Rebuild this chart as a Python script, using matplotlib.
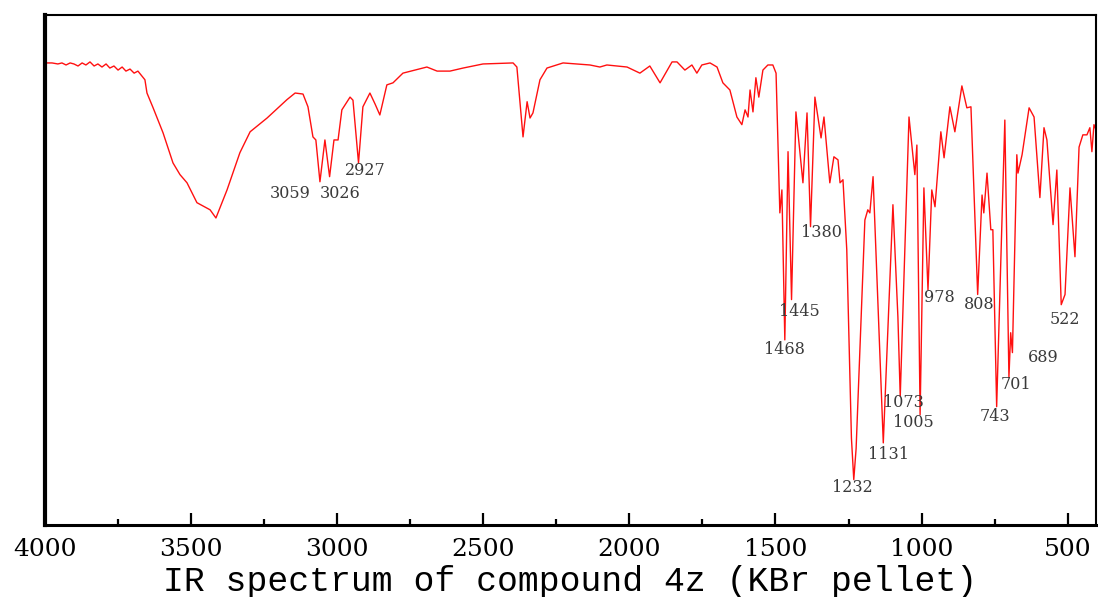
import matplotlib
matplotlib.use("Agg")
import matplotlib.pyplot as plt
from matplotlib.ticker import MultipleLocator

# IR spectrum of compound 4z (KBr pellet): wavenumber (cm-1) vs transmittance (%)
wavenumber = [
    4000, 3976, 3956, 3942, 3928, 3914, 3901, 3887, 3873, 3860,
    3846, 3832, 3819, 3805, 3791, 3778, 3764, 3750, 3736, 3723,
    3709, 3695, 3682, 3668, 3658, 3651, 3641, 3630, 3596, 3562,
    3538, 3514, 3480, 3435, 3415, 3377, 3333, 3298, 3240, 3172,
    3144, 3117, 3100, 3083, 3073, 3059, 3042, 3026, 3011, 2997,
    2984, 2956, 2946, 2927, 2912, 2888, 2870, 2854, 2830, 2809,
    2775, 2693, 2658, 2614, 2569, 2501, 2398, 2385, 2364, 2350,
    2340, 2330, 2306, 2282, 2227, 2135, 2101, 2077, 2008, 1964,
    1930, 1895, 1854, 1837, 1810, 1786, 1769, 1752, 1724, 1700,
    1680, 1656, 1632, 1615, 1604, 1594, 1587, 1577, 1567, 1557,
    1543, 1526, 1509, 1498, 1485, 1478, 1468, 1457, 1445, 1430,
    1406, 1392, 1380, 1365, 1344, 1334, 1314, 1300, 1286, 1279,
    1269, 1256, 1240, 1232, 1224, 1211, 1194, 1184, 1177, 1166,
    1131, 1098, 1081, 1073, 1043, 1023, 1016, 1005, 992, 978,
    965, 954, 934, 923, 903, 886, 862, 845, 831, 808,
    793, 787, 776, 763, 756, 743, 715, 701, 695, 689,
    674, 670, 656, 632, 615, 595, 581, 571, 550, 537,
    522, 509, 492, 475, 461, 448, 434, 424, 417, 410, 403,
]
transmittance = [
    90.6, 90.6, 90.4, 90.6, 90.2, 90.6, 90.4, 90.0, 90.6, 90.2,
    90.8, 90.0, 90.4, 89.8, 90.4, 89.6, 90.0, 89.2, 89.8, 89.0,
    89.4, 88.6, 89.0, 88.0, 87.3, 84.7, 83.3, 81.8, 76.9, 71.0,
    68.7, 67.1, 63.2, 61.8, 60.2, 65.7, 73.0, 77.1, 79.8, 83.4,
    84.7, 84.5, 82.0, 76.1, 75.5, 67.3, 75.5, 68.3, 75.5, 75.5,
    81.4, 83.9, 83.3, 71.0, 82.0, 84.7, 82.5, 80.4, 86.3, 86.7,
    88.6, 89.8, 89.0, 89.0, 89.6, 90.4, 90.6, 89.8, 76.1, 83.0,
    79.8, 80.8, 87.3, 89.6, 90.6, 90.2, 89.8, 90.2, 89.8, 88.6,
    90.0, 86.7, 90.8, 90.8, 89.2, 90.2, 88.6, 90.2, 90.6, 89.8,
    86.7, 85.3, 80.0, 78.5, 81.4, 80.0, 85.3, 81.0, 87.7, 83.9,
    89.2, 90.2, 90.2, 88.6, 61.2, 65.7, 36.3, 73.2, 44.2, 81.0,
    67.1, 80.8, 58.5, 83.9, 75.9, 80.0, 67.1, 72.2, 71.6, 67.1,
    67.7, 54.0, 17.0, 8.9, 15.0, 34.4, 59.8, 61.8, 61.2, 68.3,
    16.1, 62.8, 40.8, 25.2, 80.0, 68.7, 74.5, 21.6, 66.1, 46.1,
    65.7, 62.4, 77.1, 72.0, 82.0, 77.1, 86.1, 81.8, 82.0, 45.2,
    64.7, 61.2, 69.0, 57.9, 57.9, 23.2, 79.4, 28.9, 37.7, 33.8,
    72.6, 69.0, 72.6, 81.8, 80.0, 64.2, 77.9, 75.5, 58.9, 69.6,
    43.2, 45.2, 66.1, 52.6, 74.1, 76.5, 76.5, 77.9, 73.2, 78.5, 77.5,
]

# Labelled absorption bands and where their labels sit (offset in pixels)
peak_labels = [3059, 3026, 2927, 1468, 1445, 1380, 1232, 1131,
               1073, 1005, 978, 808, 743, 701, 689, 522]
label_offsets = [(-30, -12), (11, -17), (7, -8), (0, -10), (8, -12), (11, -6),
                 (-1, -8), (5, -12), (3, -6), (-7, -8), (11, -8), (2, -10),
                 (-2, -10), (7, -7), (31, -5), (4, -15)]

xticks = [4000, 3500, 3000, 2500, 2000, 1500, 1000, 500]
xlabel = "IR spectrum of compound 4z (KBr pellet)"

fig = plt.figure(figsize=(10.98, 5.97), dpi=100)
ax = fig.add_axes([45 / 1098, 1 - 525 / 597, (1096 - 45) / 1098, (525 - 15) / 597])

ax.plot(wavenumber, transmittance, color="#ff1010", lw=1.0, antialiased=True)

for wn, (dx, dy) in zip(peak_labels, label_offsets):
    t = transmittance[wavenumber.index(wn)]
    ax.annotate(str(wn), xy=(wn, t), xytext=(dx, dy), textcoords="offset pixels",
                ha="center", va="center", fontsize=11.5, color="#3a3a3a",
                family="DejaVu Serif")

ax.set_xlim(4000, 403)
ax.set_ylim(0, 100)
ax.set_xticks(xticks)
ax.set_xticklabels([str(v) for v in xticks])
ax.xaxis.set_minor_locator(MultipleLocator(250))
ax.set_yticks([])
ax.tick_params(axis="x", which="major", direction="in", length=9, width=1.6,
               pad=9, labelsize=18)
ax.tick_params(axis="x", which="minor", direction="in", length=4.5, width=1.6)
for lab in ax.get_xticklabels():
    lab.set_family("DejaVu Serif")

ax.spines["left"].set_linewidth(3.0)
ax.spines["bottom"].set_linewidth(2.2)
ax.spines["top"].set_linewidth(1.5)
ax.spines["right"].set_linewidth(1.5)

ax.set_xlabel(xlabel, family="Liberation Mono", fontsize=25, labelpad=3)

fig.savefig("out.png", dpi=100)
